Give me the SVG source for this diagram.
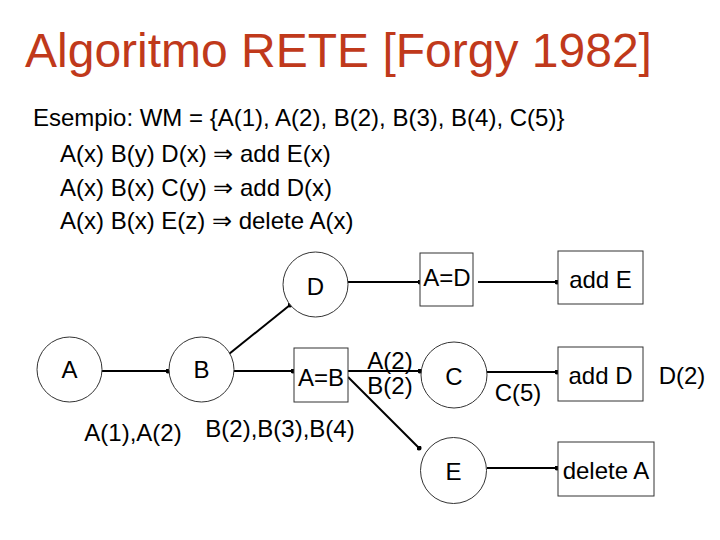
<svg xmlns="http://www.w3.org/2000/svg" width="720" height="540" viewBox="0 0 720 540">
<defs>
<style>
text{font-family:"Liberation Sans",Arial,sans-serif;fill:#000}
.title{font-size:48px;fill:#C0391B}
.body{font-size:24px}
.lbl{font-size:24px;text-anchor:middle}
.node circle,.node rect{fill:#fff;stroke:#333;stroke-width:1}
.conn line{stroke:#000;stroke-width:2;marker-end:url(#dot)}
</style>
<marker id="dot" viewBox="0 0 6 6" refX="3" refY="3" markerWidth="2.5" markerHeight="2.5" markerUnits="strokeWidth"><circle cx="3" cy="3" r="3" fill="#000"/></marker>
</defs>
<rect width="720" height="540" fill="#fff"/>
<text class="title" x="25" y="67">Algoritmo RETE [Forgy 1982]</text>
<text class="body" x="33" y="126">Esempio: WM = {A(1), A(2), B(2), B(3), B(4), C(5)}</text>
<text class="body" x="60" y="162">A(x) B(y) D(x) ⇒ add E(x)</text>
<text class="body" x="60" y="196">A(x) B(x) C(y) ⇒ add D(x)</text>
<text class="body" x="60" y="229">A(x) B(x) E(z) ⇒ delete A(x)</text>
<g id="connectors" class="conn">
<line x1="102" y1="371" x2="168" y2="371"/>
<line x1="234" y1="371" x2="293" y2="371"/>
<line x1="229" y1="354" x2="290" y2="305"/>
<line x1="348" y1="282" x2="420" y2="282"/>
<line x1="478" y1="282" x2="557" y2="282"/>
<line x1="348" y1="371" x2="420" y2="371"/>
<line x1="348" y1="377" x2="419" y2="448"/>
<line x1="487" y1="372" x2="557" y2="372"/>
<line x1="487" y1="468" x2="557" y2="468"/>
</g>
<g id="nA" class="node"><circle cx="69.5" cy="369.5" r="32.5"/><text class="lbl" x="69.5" y="378">A</text></g>
<g id="nB" class="node"><circle cx="201.5" cy="369.5" r="32.5"/><text class="lbl" x="201.5" y="378">B</text></g>
<g id="nD" class="node"><circle cx="315.5" cy="284.5" r="32.5"/><text class="lbl" x="315.5" y="295">D</text></g>
<g id="nAeqD" class="node"><rect x="420" y="253" width="53" height="53"/><text class="lbl" x="447" y="286">A=D</text></g>
<g id="nAddE" class="node"><rect x="558" y="251" width="85" height="53"/><text class="lbl" x="600.5" y="288">add E</text></g>
<g id="nAeqB" class="node"><rect x="294" y="348" width="54" height="54"/><text class="lbl" x="321" y="386">A=B</text></g>
<g id="nC" class="node"><circle cx="454" cy="375" r="33"/><text class="lbl" x="454" y="385">C</text></g>
<g id="nAddD" class="node"><rect x="558" y="347" width="85" height="54"/><text class="lbl" x="600.5" y="384">add D</text></g>
<g id="nE" class="node"><circle cx="453.5" cy="470.5" r="33"/><text class="lbl" x="453.5" y="480">E</text></g>
<g id="nDelA" class="node"><rect x="558" y="442" width="96" height="54"/><text class="lbl" x="606" y="479">delete A</text></g>
<g id="labels">
<text class="lbl" x="390" y="369">A(2)</text>
<text class="lbl" x="390" y="394">B(2)</text>
<text class="lbl" x="518" y="401">C(5)</text>
<text class="lbl" x="682" y="384">D(2)</text>
<text class="lbl" x="133" y="441">A(1),A(2)</text>
<text class="lbl" x="280" y="437">B(2),B(3),B(4)</text>
</g>
</svg>
